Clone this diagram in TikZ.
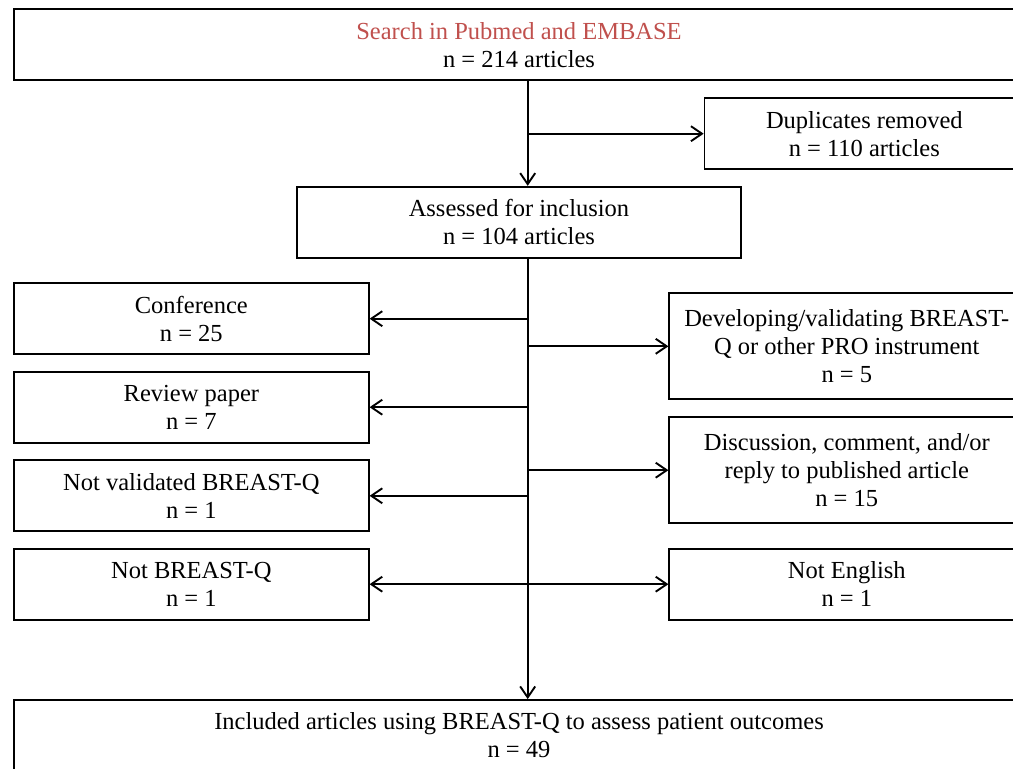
\documentclass[tikz,border=0pt]{standalone}
\usepackage{fontspec}
\setmainfont{Liberation Serif}
\usetikzlibrary{arrows.meta}
\definecolor{titlered}{RGB}{192,80,77}
\tikzset{
  box/.style={draw=black, line width=1.8pt, align=center, inner sep=0pt,
    font=\fontsize{24.5}{28}\selectfont},
  conn/.style={line width=1.9pt, -{Straight Barb[length=11pt,width=15pt,line width=1.9pt]}}
}
\begin{document}
\begin{tikzpicture}[x=1pt,y=-1pt]
\useasboundingbox (0,0) rectangle (1013,769);
\node[box, minimum width=1010pt, minimum height=70.7pt] (top) at (519,44.7)
  {\textcolor{titlered}{Search in Pubmed and EMBASE}\\n = 214 articles};
\node[box, minimum width=319.5pt, minimum height=70.7pt] (dup) at (864.3,133.7)
  {Duplicates removed\\n = 110 articles};
\node[box, minimum width=443.4pt, minimum height=71pt] (ass) at (519,222.2)
  {Assessed for inclusion\\n = 104 articles};
\node[box, minimum width=354.7pt, minimum height=71pt] (conf) at (191.35,318.7)
  {Conference\\n = 25};
\node[box, minimum width=354.7pt, minimum height=71pt] (rev) at (191.35,407.2)
  {Review paper\\n = 7};
\node[box, minimum width=354.7pt, minimum height=71pt] (nval) at (191.35,495.8)
  {Not validated BREAST-Q\\n = 1};
\node[box, minimum width=354.7pt, minimum height=71pt] (nbq) at (191.35,584.2)
  {Not BREAST-Q\\n = 1};
\node[box, minimum width=355pt, minimum height=106pt] (dev) at (846.8,346.3)
  {Developing/validating BREAST-\\Q or other PRO instrument\\n = 5};
\node[box, minimum width=355pt, minimum height=106.3pt] (disc) at (846.8,470.2)
  {Discussion, comment, and/or\\reply to published article\\n = 15};
\node[box, minimum width=355pt, minimum height=71pt] (neng) at (846.8,584.2)
  {Not English\\n = 1};
\node[box, minimum width=1010pt, minimum height=70pt] (inc) at (519,735)
  {Included articles using BREAST-Q to assess patient outcomes\\n = 49};
\coordinate (sp) at (527.7,0);
\draw[conn] (top.south -| sp) -- (ass.north -| sp);
\draw[conn] (dup.west -| sp) -- (dup.west);
\draw[conn] (ass.south -| sp) -- (inc.north -| sp);
\draw[conn] (conf.east -| sp) -- (conf.east);
\draw[conn] (rev.east -| sp) -- (rev.east);
\draw[conn] (nval.east -| sp) -- (nval.east);
\draw[conn] (nbq.east -| sp) -- (nbq.east);
\draw[conn] (dev.west -| sp) -- (dev.west);
\draw[conn] (disc.west -| sp) -- (disc.west);
\draw[conn] (neng.west -| sp) -- (neng.west);
\end{tikzpicture}
\end{document}
